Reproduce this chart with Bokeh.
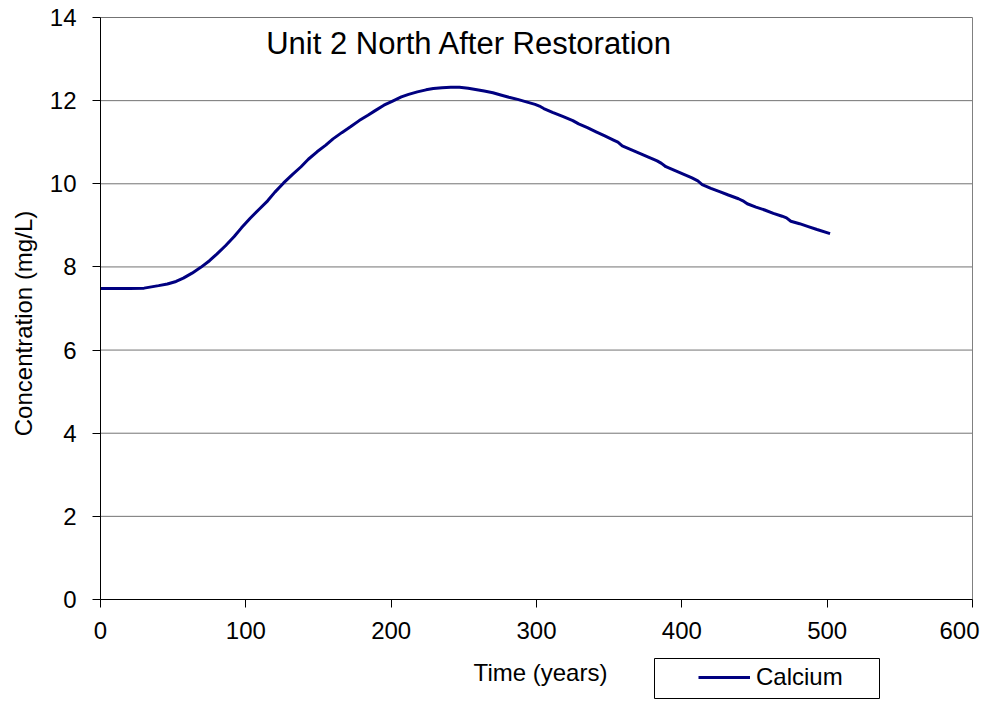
from math import pi
from bokeh.plotting import figure
from bokeh.models import (Range1d, FixedTicker, Legend, LegendItem, Label,
                          BoxAnnotation)
from bokeh.embed import file_html
from bokeh.resources import INLINE

# ---- data ----
years = [0, 10, 20, 30, 35, 40, 46, 52, 57, 63, 69, 75, 80, 86, 92, 97,
         103, 109, 115, 120, 126, 132, 138, 143, 149, 155, 160, 166, 172,
         178, 184, 189, 195, 201, 207, 212, 218, 224, 229, 235, 241, 247,
         253, 258, 264, 270, 276, 281, 287, 293, 299, 302, 305, 311, 318,
         325, 329, 335, 341, 347, 353, 356, 359, 365, 371, 377, 383, 386,
         389, 395, 401, 407, 411, 414, 420, 426, 432, 439, 442, 445, 451,
         457, 463, 469, 472, 475, 481, 487, 493, 502]
calcium = [7.48, 7.48, 7.48, 7.49, 7.52, 7.55, 7.59, 7.65, 7.73, 7.85,
           7.99, 8.15, 8.31, 8.51, 8.73, 8.94, 9.17, 9.38, 9.59, 9.80,
           10.02, 10.22, 10.41, 10.59, 10.77, 10.93, 11.08, 11.23, 11.37,
           11.52, 11.65, 11.76, 11.89, 11.99, 12.09, 12.15, 12.21, 12.26,
           12.29, 12.31, 12.32, 12.32, 12.30, 12.27, 12.23, 12.19, 12.13,
           12.08, 12.03, 11.97, 11.91, 11.87, 11.81, 11.72, 11.62, 11.52,
           11.44, 11.35, 11.25, 11.15, 11.05, 11.00, 10.91, 10.82, 10.73,
           10.64, 10.55, 10.49, 10.41, 10.32, 10.23, 10.14, 10.07, 9.98,
           9.89, 9.81, 9.73, 9.64, 9.59, 9.52, 9.44, 9.37, 9.29, 9.22,
           9.18, 9.10, 9.04, 8.97, 8.90, 8.80]
x_ticks = [0, 100, 200, 300, 400, 500, 600]
y_ticks = [0, 2, 4, 6, 8, 10, 12, 14]
series_name = "Calcium"
title_text = "Unit 2 North After Restoration"
x_label = "Time (years)"
y_label = "Concentration (mg/L)"

FONT = "Liberation Sans"
GRID = "#737373"
BORDER = "#808080"

# ---- layout (canvas pixels; the plot frame fills the whole canvas) ----
W, H = 984, 699
PLOT_L, PLOT_R = 100, 972      # x of 0 and 600
PLOT_T, PLOT_B = 17, 599       # y of 14 and 0
x_min, x_max = x_ticks[0], x_ticks[-1]
y_min, y_max = y_ticks[0], y_ticks[-1]
kx = (PLOT_R - PLOT_L) / (x_max - x_min)
ky = (PLOT_B - PLOT_T) / (y_max - y_min)
x_range = Range1d(x_min - PLOT_L / kx, x_max + (W - PLOT_R) / kx)
y_range = Range1d(y_min - (H - PLOT_B) / ky, y_max + PLOT_T / ky)

p = figure(width=W, height=H, output_backend="svg", toolbar_location=None,
           x_range=x_range, y_range=y_range,
           min_border_left=0, min_border_right=0,
           min_border_top=0, min_border_bottom=0)
p.background_fill_color = "white"
p.border_fill_color = "white"
p.outline_line_color = None
p.xgrid.visible = False
p.ygrid.visible = False

# horizontal gridlines (0..600) and right border of the plot area
p.segment(x0=x_min, x1=x_max, y0=y_ticks, y1=y_ticks,
          line_color=GRID, line_width=1)
p.segment(x0=x_max, x1=x_max, y0=y_min, y1=y_max,
          line_color=BORDER, line_width=1)

xax = p.xaxis[0]
yax = p.yaxis[0]
xax.fixed_location = y_min
yax.fixed_location = x_min
xax.bounds = (x_min, x_max)
yax.bounds = (y_min, y_max)

for ax in (xax, yax):
    ax.axis_line_color = "black"
    ax.axis_line_width = 1
    ax.major_tick_line_color = "black"
    ax.major_tick_in = 0
    ax.major_tick_out = 8
    ax.minor_tick_in = 0
    ax.minor_tick_out = 0
    ax.major_label_text_font = FONT
    ax.major_label_text_font_size = "24px"
    ax.major_label_text_color = "black"

xax.ticker = FixedTicker(ticks=x_ticks)
yax.ticker = FixedTicker(ticks=y_ticks)
xax.major_label_standoff = 14
yax.major_label_standoff = 16
# last x tick label is drawn a little to the left so it stays on the page
xax.major_label_overrides = {x_max: ""}

line = p.line(years, calcium, line_color="#000080", line_width=3)

last_tick = Label(x=x_max, y=y_min, x_offset=-13, y_offset=-(8 + 14),
                  text=str(x_max), text_align="center", text_baseline="top",
                  text_font=FONT, text_font_size="24px", text_color="black")
p.add_layout(last_tick)

title = Label(x=469, y=H - 43, x_units="screen", y_units="screen",
              text=title_text, text_align="center",
              text_baseline="alphabetic", text_font=FONT,
              text_font_size="31px", text_color="black")
p.add_layout(title)

ylab = Label(x=23, y=H - 323, x_units="screen", y_units="screen",
             text=y_label, angle=pi / 2, text_align="center",
             text_baseline="alphabetic", text_font=FONT,
             text_font_size="24px", text_color="black")
p.add_layout(ylab)

xlab = Label(x=540, y=H - 672, x_units="screen", y_units="screen",
             text=x_label, text_align="center",
             text_baseline="alphabetic", text_font=FONT,
             text_font_size="24px", text_color="black")
p.add_layout(xlab)

box = BoxAnnotation(left=654, right=879, bottom=1, top=41,
                    left_units="screen", right_units="screen",
                    top_units="screen", bottom_units="screen",
                    fill_color="white", fill_alpha=1, line_color="black",
                    line_alpha=1, line_width=1, line_dash="solid")
p.add_layout(box)

legend = Legend(items=[LegendItem(label=series_name, renderers=[line])],
                location=(698, 8), padding=0, margin=0, spacing=0,
                border_line_alpha=0, background_fill_alpha=0,
                glyph_width=52, label_standoff=6,
                label_text_font=FONT, label_text_font_size="24px",
                label_text_color="black")
p.add_layout(legend)

open("out.html", "w").write(file_html(p, INLINE))
